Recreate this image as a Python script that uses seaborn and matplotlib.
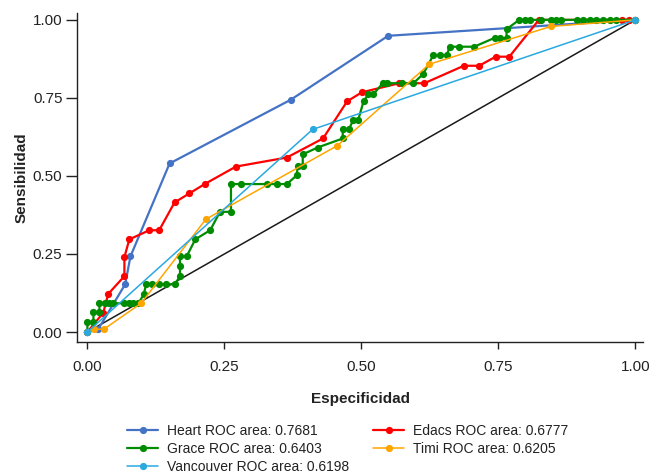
import matplotlib
matplotlib.use("Agg")
import matplotlib.pyplot as plt
import seaborn as sns
import pandas as pd

# ---- data ----
heart_x = [0, 0.020, 0.069, 0.0785, 0.150, 0.371, 0.549, 1.0]
heart_y = [0, 0.010, 0.153, 0.242, 0.540, 0.744, 0.949, 1.0]

edacs_x = [0, 0.029, 0.038, 0.0675, 0.0675, 0.0766, 0.113, 0.131, 0.159, 0.186, 0.215,
           0.271, 0.364, 0.430, 0.474, 0.501, 0.569, 0.615, 0.687, 0.715, 0.745, 0.770,
           0.824, 0.976, 0.988, 1.0]
edacs_y = [0, 0.062, 0.122, 0.179, 0.240, 0.297, 0.326, 0.326, 0.415, 0.444, 0.475,
           0.530, 0.559, 0.620, 0.739, 0.768, 0.797, 0.797, 0.853, 0.853, 0.882, 0.882,
           1.0, 1.0, 1.0, 1.0]

grace_x = [0, 0, 0.011, 0.011, 0.022, 0.022, 0.032, 0.040, 0.047, 0.066, 0.075, 0.084,
           0.093, 0.103, 0.107, 0.118, 0.130, 0.143, 0.160, 0.169, 0.169, 0.169, 0.181,
           0.197, 0.224, 0.242, 0.262, 0.262, 0.281, 0.327, 0.346, 0.364, 0.382, 0.384,
           0.393, 0.393, 0.420, 0.466, 0.466, 0.477, 0.485, 0.494, 0.504, 0.513, 0.522,
           0.539, 0.547, 0.574, 0.595, 0.613, 0.631, 0.644, 0.656, 0.661, 0.679, 0.706,
           0.744, 0.753, 0.765, 0.765, 0.788, 0.799, 0.808, 0.827, 0.846, 0.855, 0.864,
           0.893, 0.905, 0.917, 0.929, 0.941, 0.953, 0.965, 1.0]
grace_y = [0, 0.032, 0.032, 0.064, 0.064, 0.092, 0.092, 0.092, 0.092, 0.092, 0.092, 0.092,
           0.092, 0.121, 0.153, 0.153, 0.153, 0.153, 0.153, 0.180, 0.211, 0.242, 0.242,
           0.297, 0.326, 0.385, 0.385, 0.474, 0.474, 0.474, 0.474, 0.474, 0.502, 0.533,
           0.533, 0.569, 0.591, 0.620, 0.649, 0.649, 0.678, 0.678, 0.739, 0.762, 0.762,
           0.797, 0.797, 0.797, 0.797, 0.827, 0.886, 0.886, 0.886, 0.914, 0.914, 0.914,
           0.943, 0.941, 0.941, 0.970, 1.0, 1.0, 1.0, 1.0, 1.0, 1.0, 1.0,
           1.0, 1.0, 1.0, 1.0, 1.0, 1.0, 1.0, 1.0]

timi_x = [0, 0.012, 0.030, 0.098, 0.216, 0.456, 0.624, 0.846, 1.0]
timi_y = [0, 0.009, 0.009, 0.092, 0.361, 0.597, 0.858, 0.979, 1.0]

vanc_x = [0, 0.411, 1.0]
vanc_y = [0, 0.649, 1.0]

ref_x = [0, 1]
ref_y = [0, 1]

labels = ["Heart ROC area: 0.7681", "Edacs ROC area: 0.6777", "Grace ROC area: 0.6403",
          "Timi ROC area: 0.6205", "Vancouver ROC area: 0.6198"]
tick_vals = [0, 0.25, 0.5, 0.75, 1.0]
tick_labels = ["0.00", "0.25", "0.50", "0.75", "1.00"]

# ---- style ----
sns.set_theme(style="ticks")
plt.rcParams["font.family"] = ["Liberation Sans", "DejaVu Sans"]

fig = plt.figure(figsize=(6.65, 4.74), dpi=100)
ax = fig.add_axes([77 / 665, 1 - 341.7 / 474, 566 / 665, 328.7 / 474])

series = [
    (heart_x, heart_y, "#4472C4", 1.6, labels[0]),
    (edacs_x, edacs_y, "#FF0000", 1.6, labels[1]),
    (grace_x, grace_y, "#008C00", 1.6, labels[2]),
    (timi_x, timi_y, "#FFA500", 1.1, labels[3]),
    (vanc_x, vanc_y, "#2AA8E0", 1.1, labels[4]),
]

sns.lineplot(x=ref_x, y=ref_y, ax=ax, color="#1a1a1a", linewidth=1.1, sort=False,
             estimator=None, zorder=1)

handles = {}
for i, (xs, ys, col, lw, lab) in enumerate(series):
    df = pd.DataFrame({"x": xs, "y": ys})
    sns.lineplot(data=df, x="x", y="y", ax=ax, color=col, linewidth=lw, sort=False,
                 estimator=None, marker="o", markersize=5.2, markeredgewidth=0,
                 label=lab, zorder=2 + i, legend=False)
    handles[lab] = ax.lines[-1]

ax.set_xlim(-0.019, 1.014)
ax.set_ylim(-0.031, 1.022)
ax.set_xticks(tick_vals)
ax.set_yticks(tick_vals)
ax.set_xticklabels(tick_labels)
ax.set_yticklabels(tick_labels)
for s in ["top", "right"]:
    ax.spines[s].set_visible(False)
for s in ["left", "bottom"]:
    ax.spines[s].set_linewidth(1.0)
    ax.spines[s].set_color("#222222")
ax.tick_params(axis="x", direction="out", length=5.3, width=1.0, pad=8,
               labelsize=11, colors="#222222")
ax.tick_params(axis="y", direction="out", length=8, width=1.0, pad=2.5,
               labelsize=11, colors="#222222")

ax.set_xlabel("Especificidad", fontsize=11, fontweight="bold", color="#222222")
ax.set_ylabel("Sensibilidad", fontsize=11, fontweight="bold", color="#222222")
ax.xaxis.set_label_coords(0.5, -0.152)
ax.yaxis.set_label_coords(-0.085, 0.5)

order = [labels[0], labels[2], labels[4], labels[1], labels[3]]
leg = ax.legend([handles[l] for l in order], order, loc="upper left",
                bbox_to_anchor=(127 / 665, 1 - 424 / 474), bbox_transform=fig.transFigure,
                ncol=2, frameon=False, handlelength=2.25,
                handletextpad=0.65, columnspacing=1.7, labelspacing=0.3, borderpad=0,
                borderaxespad=0, prop={"family": ["Liberation Sans", "DejaVu Sans"], "size": 10})
for t in leg.get_texts():
    t.set_color("#222222")

fig.savefig("out.png", dpi=100)
